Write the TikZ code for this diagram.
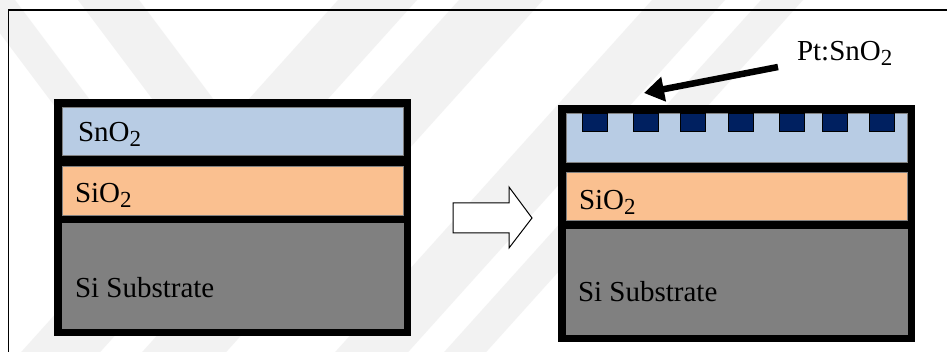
\documentclass[tikz,border=0pt]{standalone}
\usepackage{fontspec}
\setmainfont{Liberation Serif}
\usetikzlibrary{arrows.meta}
\definecolor{snoblue}{HTML}{B8CCE4}
\definecolor{sioorange}{HTML}{FAC090}
\definecolor{sigray}{HTML}{808080}
\definecolor{ptnavy}{HTML}{002060}
\definecolor{wmark}{HTML}{F2F2F2}
\newcommand\subtwo{\raisebox{-5pt}{\fontsize{23}{23}\selectfont 2}}
\begin{document}
\begin{tikzpicture}[x=1pt,y=-1pt,
  box/.style={inner sep=0pt,outer sep=0pt,anchor=north west},
  layer/.style={box,draw=black!50,line width=0.5pt},
  dot/.style={box,fill=ptnavy,draw=black,line width=0.6pt,minimum width=25pt,minimum height=18pt},
  lbl/.style={inner sep=0pt,outer sep=0pt,anchor=base west,font=\fontsize{29}{29}\selectfont},
  band/.style={fill=wmark,draw=none}]
\useasboundingbox (0,0) rectangle (947,352);
\fill[white] (0,0) rectangle (947,352);
% faint watermark bands
\fill[band] (-25,0) -- (15,0) -- (105,120) -- (65,120) -- cycle;
\fill[band] (78,0) -- (139,0) -- (229,120) -- (168,120) -- cycle;
\foreach \a/\b in {338/417,459/543,652/725,761/803}{
  \fill[band] (\a,0) -- (\b,0) -- ({\b-0.9*352},352) -- ({\a-0.9*352},352) -- cycle;
}
% outer frame
\draw[line width=1.5pt] (8.5,360) -- (8.5,10) -- (960,10);
% left stack
\node[box,fill=black,minimum width=357pt,minimum height=237pt] (Lframe) at (54,99) {};
\node[layer,fill=snoblue,minimum width=341pt,minimum height=48pt] (Lsno) at (62,107) {};
\node[layer,fill=sioorange,minimum width=341pt,minimum height=49pt] (Lsio) at (62,166) {};
\node[layer,fill=sigray,minimum width=341pt,minimum height=105pt] (Lsi) at (62,223) {};
\node[lbl] (tLsno) at (78,142) {SnO\subtwo};
\node[lbl] (tLsio) at (75,203) {SiO\subtwo};
\node[lbl] (tLsi) at (75,298) {Si Substrate};
% block arrow
\draw[line width=1pt,fill=white,line join=miter] (453,203) -- (509,203) -- (509,187) -- (532,218) -- (509,248) -- (509,233) -- (453,233) -- cycle;
% right stack
\node[box,fill=black,minimum width=357pt,minimum height=237pt] (Rframe) at (558,105) {};
\node[layer,fill=snoblue,minimum width=341pt,minimum height=49pt] (Rsno) at (566,113) {};
\node[layer,fill=sioorange,minimum width=341pt,minimum height=48pt] (Rsio) at (566,172) {};
\node[layer,fill=sigray,minimum width=341pt,minimum height=105pt] (Rsi) at (566,229) {};
\foreach \x [count=\i] in {582,633,680,728,779,822,869}{
  \node[dot] (sq\i) at (\x,113) {};
}
\node[lbl] (tRsio) at (579,210) {SiO\subtwo};
\node[lbl] (tRsi) at (578,302) {Si Substrate};
% Pt:SnO2 label and arrow
\node[lbl] (ptlbl) at (797,61) {Pt:SnO\subtwo};
\coordinate (ptTail) at ([xshift=-19pt,yshift=-6pt]ptlbl.base west);
\coordinate (ptTip) at ([xshift=86pt,yshift=12pt]Rframe.north west);
\draw[line width=6.5pt,-{Triangle[length=20pt,width=24pt]}] (ptTail) -- (ptTip);
\end{tikzpicture}
\end{document}
